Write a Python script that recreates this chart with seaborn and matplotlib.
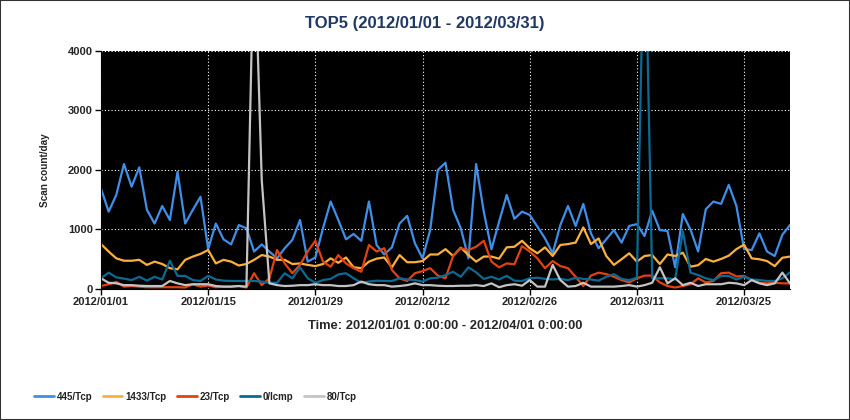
import matplotlib
matplotlib.use("Agg")
import matplotlib.pyplot as plt
import matplotlib.dates as mdates
from matplotlib.patches import Rectangle
import seaborn as sns
import pandas as pd

# daily scan counts, 2012/01/01 .. 2012/03/31 (91 days)
port_445 = [1690, 1300, 1580, 2100, 1720, 2045, 1330, 1100, 1395, 1160, 1970, 1100, 1330, 1550, 670, 1100, 835, 750, 1075,
            1020, 630, 750, 630, 515, 685, 825, 1160, 460, 530, 1020, 1470, 1160, 835, 925, 810, 1470, 740,
            580, 700, 1100, 1230, 770, 515, 990, 2000, 2123, 1328, 1020, 515, 2100, 1300, 667, 1130, 1580, 1180,
            1300, 1245, 1050, 850, 600, 1075, 1395, 1060, 1430, 935, 685, 835, 990, 780, 1060, 1090, 890, 1315, 990,
            975, 365, 1260, 1000, 630, 1340, 1470, 1430, 1750, 1395, 670, 655, 935, 630, 555, 910, 1075]
port_1433 = [755, 630, 515, 475, 475, 490, 405, 460, 420, 350, 330, 490, 545, 590, 655, 430, 490, 460, 395,
             420, 490, 570, 545, 490, 490, 420, 430, 405, 385, 420, 515, 440, 530, 365, 350, 460, 510,
             530, 365, 570, 450, 450, 470, 580, 580, 670, 555, 695, 570, 460, 545, 545, 510, 700, 710,
             810, 685, 600, 700, 555, 740, 755, 780, 1035, 755, 850, 555, 405, 500, 600, 460, 555, 570, 420,
             580, 555, 610, 375, 400, 505, 460, 505, 560, 670, 745, 515, 500, 470, 385, 525, 545]
port_23 = [50, 80, 120, 40, 50, 40, 30, 30, 30, 30, 30, 25, 80, 40, 60, 30, 40, 40, 50,
           25, 265, 65, 180, 655, 430, 265, 405, 630, 810, 460, 375, 570, 430, 350, 290, 740, 630,
           685, 320, 180, 135, 265, 300, 350, 225, 180, 555, 685, 655, 710, 810, 460, 365, 430, 415,
           720, 630, 515, 350, 470, 385, 350, 205, 50, 225, 275, 250, 205, 150, 110, 180, 225, 225, 110,
           50, 25, 50, 80, 180, 110, 135, 265, 275, 210, 220, 150, 105, 95, 105, 95, 95]
icmp_0 = [180, 275, 195, 175, 150, 205, 140, 205, 160, 475, 220, 220, 150, 135, 220, 160, 140, 135, 135,
          135, 135, 125, 105, 105, 265, 180, 365, 180, 105, 150, 170, 245, 265, 180, 105, 125, 140,
          135, 135, 180, 160, 150, 125, 180, 190, 235, 290, 205, 365, 280, 170, 205, 160, 220, 140,
          135, 180, 190, 170, 160, 170, 150, 190, 170, 160, 140, 205, 250, 170, 150, 190, 6500, 180, 180,
          180, 160, 970, 275, 235, 180, 150, 220, 220, 160, 205, 160, 150, 135, 135, 180, 280]
port_80 = [180, 105, 95, 65, 65, 55, 50, 50, 50, 135, 95, 65, 80, 80, 80, 50, 40, 40, 50,
           40, 6000, 1830, 95, 65, 50, 55, 65, 65, 80, 65, 65, 50, 50, 65, 125, 80, 65,
           65, 40, 50, 65, 95, 65, 65, 55, 50, 50, 55, 55, 65, 50, 95, 30, 65, 80,
           55, 150, 40, 40, 405, 150, 40, 50, 105, 40, 40, 40, 40, 50, 65, 40, 65, 105, 365,
           95, 180, 65, 105, 50, 80, 80, 80, 105, 95, 65, 150, 95, 65, 95, 275, 95]

series_names = ["445/Tcp", "1433/Tcp", "23/Tcp", "0/Icmp", "80/Tcp"]
series_colors = ["#3f8ee8", "#fbb03b", "#e2420f", "#0a6a94", "#c4c4c4"]
y_ticks = [0, 1000, 2000, 3000, 4000]

days = pd.date_range("2012-01-01", "2012-03-31", freq="D")
df = pd.DataFrame({"day": days, "445/Tcp": port_445, "1433/Tcp": port_1433,
                   "23/Tcp": port_23, "0/Icmp": icmp_0, "80/Tcp": port_80})
df_long = df.melt(id_vars="day", var_name="service", value_name="count")

sns.set_style("ticks")
plt.rcParams["font.family"] = ["Liberation Sans", "DejaVu Sans"]

fig = plt.figure(figsize=(8.5, 4.2), dpi=100)
ax = fig.add_axes([0.1188, 0.3119, 0.8106, 0.5667])
ax.set_facecolor("black")

sns.lineplot(data=df_long, x="day", y="count", hue="service", hue_order=series_names,
             palette=series_colors, linewidth=1.6, ax=ax, legend=False)

ax.set_xlim(days[0], days[-1])
ax.set_ylim(0, 4000)
ax.set_yticks(y_ticks)
ax.set_xticks(days[::14])
ax.xaxis.set_major_formatter(mdates.DateFormatter("%Y/%m/%d"))
ax.grid(True, color="white", linestyle=(0, (1, 2)), linewidth=0.8)

for lbl in ax.get_xticklabels() + ax.get_yticklabels():
    lbl.set_fontweight("bold")
    lbl.set_fontsize(8)
ax.tick_params(length=4, width=1, color="black", pad=2)
for side in ["top", "right"]:
    ax.spines[side].set_visible(False)
ax.spines["left"].set_color("black")
ax.spines["bottom"].set_color("black")

fig.suptitle("TOP5 (2012/01/01 - 2012/03/31)", x=0.5, y=0.943, fontsize=12, fontweight="bold",
             color="#1f3864", va="center")
ax.set_xlabel("Time: 2012/01/01 0:00:00 - 2012/04/01 0:00:00", fontsize=9.3, fontweight="bold", labelpad=9)
ax.set_ylabel("Scan count/day", fontsize=7.2, fontweight="bold", labelpad=13)

handles = [plt.Line2D([], [], color=c, linewidth=2) for c in series_colors]
fig.legend(handles, series_names, loc="center left", bbox_to_anchor=(0.03, 0.055), ncol=5, frameon=False,
           prop={"size": 7, "weight": "bold"}, handlelength=2.0, handletextpad=0.3, columnspacing=1.1,
           labelcolor="#222222")

fig.patches.append(Rectangle((0, 0), 1, 1, transform=fig.transFigure, fill=False,
                             edgecolor="#333333", linewidth=1.5))

plt.savefig("out.png", dpi=100)
plt.close()
